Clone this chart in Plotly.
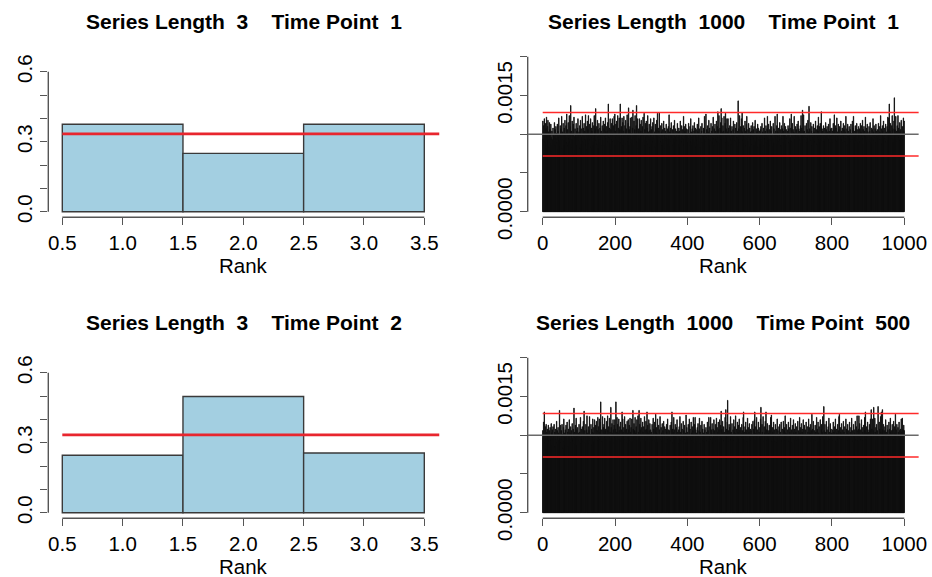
import plotly.graph_objects as go

W, H = 932, 577

# ---------------- data ----------------
rank3 = [1, 2, 3]
tp1_len3 = [0.375, 0.25, 0.375]
tp2_len3 = [0.246, 0.498, 0.256]
expected3 = 1 / 3

N_SIM = 100000
ranks1000 = list(range(1, 1001))
expected1000 = 0.001
band1000 = [0.00072, 0.00128]

tp1_len1000_counts = [
    117,94,111,85,120,101,90,114,82,107,122,97,87,110,118,92,103,83,115,99,106,89,113,96,79,
    104,93,86,108,100,78,97,115,90,106,85,110,94,101,89,113,80,104,96,121,92,100,83,111,99,
    107,87,123,97,82,103,114,93,99,108,86,118,101,92,111,96,126,89,106,85,115,100,94,124,90,
    99,110,137,86,104,93,117,83,101,113,92,122,97,79,107,100,89,114,96,104,85,108,120,87,99,
    103,92,111,82,118,99,107,87,96,123,100,90,108,83,114,97,104,93,125,86,101,110,80,117,94,
    106,124,89,99,113,93,101,120,83,108,96,104,115,90,100,85,111,124,94,103,107,133,92,99,110,
    87,118,97,106,82,114,100,93,108,89,122,99,104,85,111,96,101,117,92,107,86,113,97,121,103,
    94,110,83,104,115,90,139,100,96,108,87,120,99,106,80,114,93,120,101,90,111,97,123,92,126,
    104,86,113,96,117,99,93,124,83,108,101,121,90,106,139,97,89,110,100,121,94,115,85,104,123,
    99,92,111,103,118,87,107,96,125,100,90,114,134,94,106,85,110,121,97,101,89,122,93,108,131,
    100,96,117,86,106,124,93,101,111,137,90,99,120,82,107,103,94,120,87,113,97,104,118,92,100,
    110,89,122,99,101,127,93,106,85,114,96,117,100,90,108,124,87,103,97,113,93,104,83,120,99,
    106,86,110,96,115,90,100,121,94,103,83,113,99,107,89,118,101,127,92,108,97,104,128,87,100,
    96,111,90,103,114,85,106,99,93,117,87,100,108,82,104,96,113,92,101,94,107,86,110,97,125,
    93,103,83,108,99,115,90,100,96,106,86,111,94,101,118,89,97,107,85,104,100,92,114,96,103,
    87,108,99,104,93,117,83,100,96,111,90,106,101,94,123,86,110,97,103,92,113,99,107,82,101,
    97,106,89,114,94,101,85,110,99,120,90,103,96,107,86,111,100,93,104,115,89,99,108,83,106,
    100,92,113,96,103,87,121,99,107,90,101,83,110,94,104,114,89,100,97,108,86,106,123,93,101,
    99,126,90,106,96,111,87,103,100,118,93,108,85,101,97,114,92,104,96,110,89,122,100,94,107,
    86,113,97,104,93,117,101,90,110,129,96,106,124,89,100,108,99,115,133,93,121,103,97,111,92,
    104,123,94,101,114,127,89,107,99,120,96,103,120,90,108,100,85,111,97,121,93,104,87,110,100,
    94,106,117,86,101,97,113,92,108,100,90,115,96,104,83,143,99,107,93,124,101,89,110,99,120,
    96,128,103,92,111,100,87,108,97,117,93,104,85,113,123,94,101,106,90,114,99,96,108,83,103,
    100,111,93,104,87,115,97,106,94,110,86,101,118,92,99,107,89,103,96,113,83,108,100,93,104,
    97,106,87,110,100,93,114,90,103,96,108,85,101,121,94,104,99,111,89,100,107,123,96,92,113,
    101,94,106,86,117,99,104,92,110,97,100,83,114,94,107,89,101,123,96,104,99,87,111,126,93,
    103,97,108,90,100,115,93,106,96,85,111,101,94,107,123,89,104,99,114,92,100,110,87,106,97,
    94,104,71,111,99,107,89,101,120,96,92,108,126,100,90,114,97,106,87,103,123,94,101,93,110,
    99,106,90,113,96,101,117,86,107,97,104,93,111,100,124,89,108,99,131,92,103,125,96,104,100,
    111,93,101,96,114,89,106,99,118,94,103,136,90,107,100,97,115,92,104,110,86,101,96,113,93,
    103,99,108,90,117,96,100,106,87,111,97,104,122,93,101,110,89,114,99,100,129,94,107,92,104,
    96,111,100,90,108,101,93,115,97,106,86,110,99,103,94,113,92,104,100,120,89,107,97,101,108,
    93,104,99,114,89,106,125,96,101,111,92,108,100,121,90,103,97,113,94,106,87,110,100,96,117,
    97,104,93,108,101,89,114,99,106,96,111,90,103,123,94,100,107,86,113,97,104,93,110,101,99,
    106,94,113,90,101,97,117,93,108,123,100,96,104,87,111,99,107,92,114,100,94,106,89,110,101,
    99,107,90,114,96,103,111,93,100,118,94,106,87,110,99,104,97,122,92,101,108,89,113,96,103,
    100,93,110,97,104,115,90,101,96,108,86,106,99,120,94,103,111,92,100,107,96,113,89,104,97,
    106,94,101,114,90,110,99,103,93,124,100,96,107,87,111,104,97,117,92,101,108,94,100,113,90,
    103,97,110,93,122,100,106,121,139,96,104,114,92,101,99,111,124,94,107,100,89,117,147,97,106,
    101,123,93,104,99,111,90,124,100,108,96,103,115,92,106,97,118,100,94,110,101,93,121,104,117,
]

tp500_len1000_counts = [
    106,97,117,93,130,101,90,111,96,114,83,104,99,108,89,113,100,93,106,86,110,99,94,115,103,
    96,107,87,111,100,92,114,97,104,85,108,101,94,118,90,106,99,110,89,103,93,132,100,96,113,
    90,106,99,114,94,101,83,110,121,92,103,97,107,87,113,100,96,117,93,104,86,108,99,120,97,
    103,94,111,90,106,100,115,96,93,108,101,135,89,104,97,113,92,122,100,107,87,110,99,103,96,
    114,93,104,97,123,89,101,108,94,111,100,92,118,99,131,96,106,101,90,114,97,107,125,93,103,
    99,111,90,106,124,96,101,93,114,100,108,87,104,121,97,103,110,92,120,99,94,113,101,118,96,
    106,100,123,93,111,97,121,104,94,117,143,99,107,101,92,124,100,110,96,114,103,122,97,106,108,
    94,118,101,99,125,106,92,111,100,122,97,104,93,136,110,99,115,103,96,120,107,90,113,101,120,
    97,108,143,100,104,123,93,114,103,99,121,106,94,111,101,117,92,107,100,130,96,121,104,99,110,
    101,124,94,106,114,99,108,90,118,103,97,120,107,96,113,100,122,93,104,110,99,121,101,92,132,
    108,97,115,100,106,123,94,103,111,99,120,101,93,125,104,96,132,100,114,97,107,122,92,110,101,
    99,117,104,94,111,101,124,96,107,100,118,92,108,130,97,113,103,94,120,106,99,115,90,107,100,
    104,96,114,101,93,122,100,108,97,117,92,106,127,99,110,103,94,121,101,90,113,100,107,96,124,
    100,94,110,103,92,115,99,106,97,118,101,93,111,100,96,108,89,114,104,99,121,94,101,107,97,
    106,96,113,100,93,117,101,130,97,108,90,104,123,99,107,94,114,101,92,110,100,120,96,104,99,
    107,89,111,100,124,96,104,93,115,99,108,101,92,118,97,106,100,113,94,103,90,126,100,110,97,
    104,94,114,99,101,121,92,108,100,96,117,103,93,111,99,106,123,97,101,90,114,123,100,107,96,
    103,99,110,92,115,100,94,106,122,97,104,89,113,101,96,118,100,108,93,103,99,114,92,107,101,
    97,110,100,104,93,117,99,106,96,123,101,92,111,100,123,94,107,103,115,97,90,108,100,120,99,
    106,96,114,101,93,122,100,110,99,104,117,94,107,97,120,101,92,113,131,100,108,96,118,103,99,
    111,93,104,100,123,96,133,101,108,99,117,145,97,106,100,114,92,110,103,124,94,104,99,115,101,
    96,107,100,120,93,111,103,97,125,101,92,108,100,117,96,104,113,94,121,100,106,90,110,99,103,
    114,97,106,101,123,130,94,104,100,111,93,117,99,107,103,92,122,100,110,96,104,115,97,101,108,
    99,106,93,114,101,96,118,100,108,97,120,130,103,94,111,100,123,92,107,101,99,117,96,104,100,
    110,97,121,136,101,94,114,104,99,124,100,92,111,103,96,118,101,130,99,107,93,115,100,106,97,
    103,113,94,106,100,123,97,126,101,93,110,104,99,117,96,107,100,92,114,101,97,108,90,121,100,
    106,96,101,111,93,114,99,104,94,117,100,92,108,101,97,118,96,106,100,110,125,93,103,99,114,
    101,94,107,97,117,100,92,110,104,99,122,96,101,107,90,113,100,97,120,103,94,108,100,115,96,
    104,99,111,93,101,118,97,106,100,94,123,103,92,110,100,115,96,104,99,108,120,93,101,113,97,
    100,107,96,117,101,92,111,99,104,94,121,100,110,97,103,114,93,106,101,127,96,108,100,118,99,
    94,106,101,113,97,104,93,123,100,108,99,117,92,103,111,100,96,120,101,94,107,114,99,104,124,
    101,97,137,106,99,114,94,104,100,118,96,107,101,92,111,100,122,97,104,94,115,100,108,99,103,
    96,107,100,117,93,104,101,111,97,121,100,92,108,103,99,114,94,106,101,124,127,100,96,110,104,
    99,115,101,94,107,100,118,97,104,92,111,101,96,121,100,108,99,103,114,93,106,101,97,117,100,
    104,94,110,100,122,97,106,101,92,114,99,107,103,96,118,100,94,111,101,125,99,106,93,108,125,
    100,115,97,107,101,94,120,100,110,99,104,93,113,101,97,123,106,130,100,94,111,103,99,117,107,
    97,104,100,114,94,106,121,101,133,99,108,100,121,96,106,136,101,97,122,104,100,110,93,114,101,
    106,99,137,101,94,117,100,108,97,124,104,130,100,96,133,107,101,114,99,106,94,111,100,120,97,
    104,100,113,96,107,101,93,117,100,108,97,122,104,99,106,101,114,96,107,100,118,94,103,111,99,
    127,101,107,97,114,100,94,110,104,99,117,100,106,96,108,101,121,97,104,122,100,107,94,113,106,
]

titles = [
    "Series Length  3    Time Point  1",
    "Series Length  1000    Time Point  1",
    "Series Length  3    Time Point  2",
    "Series Length  1000    Time Point  500",
]

x3_ticks = [0.5, 1.0, 1.5, 2.0, 2.5, 3.0, 3.5]
x3_labels = ["0.5", "1.0", "1.5", "2.0", "2.5", "3.0", "3.5"]
y3_ticks = [0.0, 0.1, 0.2, 0.3, 0.4, 0.5, 0.6]
y3_labels = ["0.0", "", "", "0.3", "", "", "0.6"]
x1000_ticks = [0, 200, 400, 600, 800, 1000]
x1000_labels = ["0", "200", "400", "600", "800", "1000"]
y1000_ticks = [0.0, 0.0005, 0.001, 0.0015, 0.002]
y1000_labels = ["0.0000", "", "", "0.0015", ""]

# ---------------- layout helpers (pixel geometry) ----------------
FONT = "Liberation Sans, Arial, Helvetica, sans-serif"
AX = "#555555"
DY = 301  # vertical offset of the second row


def lin_range(dom_a, dom_b, pa, va, pb, vb):
    s = (vb - va) / (pb - pa)
    return [va + (dom_a - pa) * s, va + (dom_b - pa) * s]


def px_x(p):
    return p / W


def px_y(p):
    return 1 - p / H


panels = []
for row in range(2):
    off = row * DY
    panels.append(dict(
        xdom=(48.3, 439.5), xmap=(62.3, 0.5, 424.3, 3.5),
        ydom=(217.3 + off, 62 + off), ymap=(211.7 + off, 0.0, 71.7 + off, 0.6),
    ))
    panels.append(dict(
        xdom=(527.7, 918.8), xmap=(542.7, 0, 904.3, 1000),
        ydom=(217.3 + off, 48 + off), ymap=(211.7 + off, 0.0, 56.7 + off, 0.002),
    ))

fig = go.Figure()
layout = dict(
    template="none",
    width=W, height=H, margin=dict(l=0, r=0, t=0, b=0, pad=0, autoexpand=False),
    paper_bgcolor="white", plot_bgcolor="white", showlegend=False,
    bargap=0.0001, font=dict(family=FONT, size=20.5, color="black"),
)
shapes = []
annotations = []

hist_values = {0: tp1_len3, 2: tp2_len3}
bar_counts = {1: tp1_len1000_counts, 3: tp500_len1000_counts}

for i, p in enumerate(panels):
    n = i + 1
    xa = "x" if n == 1 else f"x{n}"
    ya = "y" if n == 1 else f"y{n}"
    xr = lin_range(p["xdom"][0], p["xdom"][1], *p["xmap"])
    yr = lin_range(p["ydom"][0], p["ydom"][1], *p["ymap"])
    left = i % 2 == 0
    xkey = "xaxis" if n == 1 else f"xaxis{n}"
    ykey = "yaxis" if n == 1 else f"yaxis{n}"
    tickfont = dict(family=FONT, size=20.5, color="black")
    layout[xkey] = dict(
        domain=[px_x(p["xdom"][0]), px_x(p["xdom"][1])], range=xr, anchor=ya,
        showgrid=False, zeroline=False, showline=False, automargin=False,
        ticks="outside", ticklen=7, tickwidth=1.3, tickcolor=AX,
        tickmode="array",
        tickvals=x3_ticks if left else x1000_ticks,
        ticktext=x3_labels if left else x1000_labels,
        tickfont=tickfont, fixedrange=True,
    )
    layout[ykey] = dict(
        domain=[px_y(p["ydom"][0]), px_y(p["ydom"][1])], range=yr, anchor=xa,
        showgrid=False, zeroline=False, showline=False, automargin=False,
        ticks="outside", ticklen=7, tickwidth=1.3, tickcolor=AX,
        tickmode="array",
        tickvals=y3_ticks if left else y1000_ticks,
        ticktext=y3_labels if left else y1000_labels,
        tickangle=-90, tickfont=tickfont, fixedrange=True,
    )
    xdomref = f"{xa} domain"
    ydomref = f"{ya} domain"
    xt = x3_ticks if left else x1000_ticks
    yt = y3_ticks if left else y1000_ticks
    shapes.append(dict(type="line", xref=xa, yref=ydomref, x0=xt[0], x1=xt[-1], y0=0, y1=0,
                       line=dict(color=AX, width=1.4), layer="above"))
    shapes.append(dict(type="line", xref=xdomref, yref=ya, x0=0, x1=0, y0=yt[0], y1=yt[-1],
                       line=dict(color=AX, width=1.4), layer="above"))

    if left:
        fig.add_trace(go.Bar(
            x=rank3, y=hist_values[i], width=1, xaxis=xa, yaxis=ya,
            marker=dict(color="#a3cfe1", line=dict(color="#3a3a3a", width=1.4)),
            hoverinfo="skip",
        ))
        shapes.append(dict(type="line", xref=xa, yref=ya, x0=x3_ticks[0], x1=xr[1],
                           y0=expected3, y1=expected3,
                           line=dict(color="#e8262e", width=2.6), layer="above"))
    else:
        vals = [c / N_SIM for c in bar_counts[i]]
        fig.add_trace(go.Bar(
            x=ranks1000, y=vals, width=1, offset=-1, xaxis=xa, yaxis=ya,
            marker=dict(color="#111111", line=dict(color="#111111", width=0.9)),
            hoverinfo="skip",
        ))
        shapes.append(dict(type="line", xref=xa, yref=ya, x0=xr[0], x1=xr[1],
                           y0=expected1000, y1=expected1000,
                           line=dict(color="#6a6a6a", width=1.6), layer="above"))
        for b in band1000:
            shapes.append(dict(type="line", xref=xa, yref=ya, x0=x1000_ticks[0], x1=xr[1],
                               y0=b, y1=b, line=dict(color="#ff2a2a", width=1.5),
                               layer="above"))

    cx = (p["xdom"][0] + p["xdom"][1]) / 2
    off = (i // 2) * DY
    annotations.append(dict(
        text=f"<b>{titles[i]}</b>", x=px_x(cx), y=px_y(21 + off), xref="paper", yref="paper",
        xanchor="center", yanchor="middle", showarrow=False,
        font=dict(family=FONT, size=21, color="black"),
    ))
    annotations.append(dict(
        text="Rank", x=px_x(cx), y=px_y(265 + off), xref="paper", yref="paper",
        xanchor="center", yanchor="middle", showarrow=False,
        font=dict(family=FONT, size=20.5, color="black"),
    ))

layout["shapes"] = shapes
layout["annotations"] = annotations
fig.update_layout(**layout)
fig.write_html("out.html")
